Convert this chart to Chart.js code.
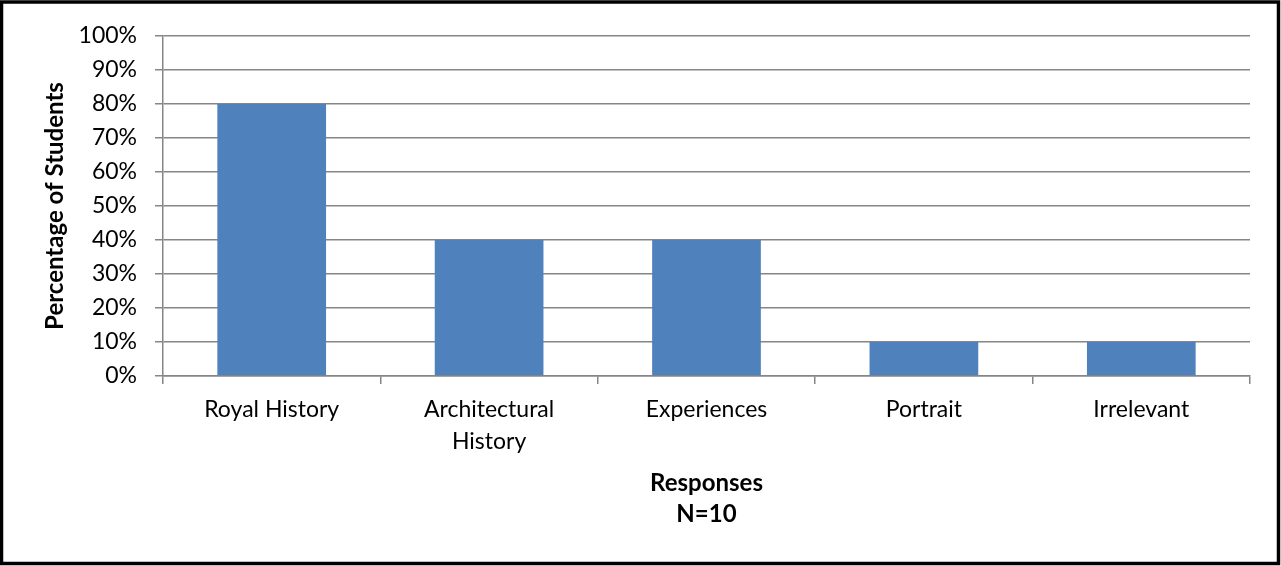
<!DOCTYPE html>
<html>
<head>
<meta charset="utf-8">
<script src="https://cdn.jsdelivr.net/npm/chart.js@4/dist/chart.umd.min.js"></script>
<style>
  html, body { margin: 0; padding: 0; background: #fff; }
  #wrap { position: relative; width: 1281px; height: 566px; }
</style>
</head>
<body>
<div id="wrap"><canvas id="chart"></canvas></div>
<script>
const categories = ['Royal History', ['Architectural', 'History'], 'Experiences', 'Portrait', 'Irrelevant'];
const percentages = [80, 40, 40, 10, 10];
const yTicks = [0, 10, 20, 30, 40, 50, 60, 70, 80, 90, 100];
const yTitle = 'Percentage of Students';
const xTitle = ['Responses', 'N=10'];

const gridColor = '#868686';
const barColor = '#4F81BD';
const font = "Lato, 'Open Sans', sans-serif";

const frame = {
    id: 'frame',
    afterDraw(chart) {
        const ctx = chart.ctx;
        ctx.save();
        ctx.strokeStyle = '#000';
        ctx.lineWidth = 3.5;
        ctx.strokeRect(1.5, 2, 1277, 561.5);
        ctx.restore();
    }
};

const padLeft = 41, padBottom = 36;

new Chart(document.getElementById('chart'), {
    type: 'bar',
    data: {
        labels: categories,
        datasets: [{
            data: percentages,
            backgroundColor: barColor,
            borderWidth: 0,
            categoryPercentage: 1,
            barPercentage: 0.5,
        }],
    },
    options: {
        responsive: true,
        maintainAspectRatio: false,
        animation: false,
        devicePixelRatio: 1,
        layout: { padding: { top: 36, right: 31, left: padLeft, bottom: padBottom } },
        plugins: { legend: { display: false }, tooltip: { enabled: false } },
        scales: {
            x: {
                grid: {
                    offset: true,
                    drawOnChartArea: false,
                    drawTicks: true,
                    tickLength: 8,
                    color: gridColor,
                    lineWidth: 1.5,
                },
                border: { color: gridColor, width: 1.5 },
                ticks: {
                    color: '#000',
                    padding: 10,
                    maxRotation: 0,
                    font: { family: font, size: 23, lineHeight: 1.39 },
                },
                title: {
                    display: true,
                    text: xTitle,
                    color: '#000',
                    padding: { top: 10, bottom: 0 },
                    font: { family: font, size: 24, weight: 'bold', lineHeight: 1.3 },
                },
                afterFit(scale) { scale.height = 566 - 376 - padBottom; },
            },
            y: {
                min: 0,
                max: 100,
                afterBuildTicks(scale) { scale.ticks = yTicks.map(v => ({ value: v })); },
                grid: {
                    color: gridColor,
                    lineWidth: 1.5,
                    drawTicks: true,
                    tickLength: 8,
                },
                border: { color: gridColor, width: 1.5 },
                ticks: {
                    color: '#000',
                    padding: 18,
                    callback: v => v + '%',
                    font: { family: font, size: 23 },
                },
                title: {
                    display: true,
                    text: yTitle,
                    color: '#000',
                    padding: 0,
                    font: { family: font, size: 24, weight: 'bold', lineHeight: 1.2 },
                },
                afterFit(scale) { scale.width = 163 - padLeft; },
            },
        },
    },
    plugins: [frame],
});
</script>
</body>
</html>
